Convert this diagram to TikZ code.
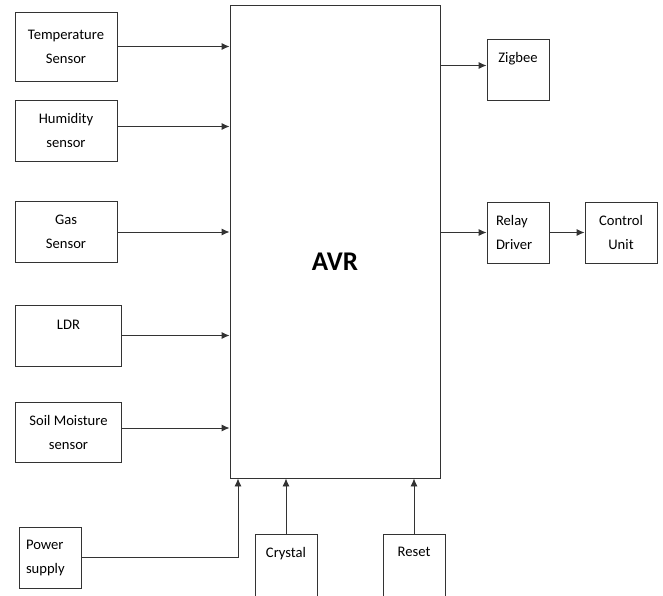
\documentclass[tikz,border=0pt]{standalone}
\usepackage{fontspec}
\setmainfont{Carlito}
\usetikzlibrary{arrows.meta,positioning}

\tikzset{
  blk/.style={draw=black!80,line width=.9pt,inner sep=0pt,align=center,
    font=\fontsize{14.6}{24}\selectfont},
  up/.style={text depth=#1pt},
  conn/.style={draw=black!80,line width=.9pt,-{Latex[length=8pt,width=7pt]}}
}

\begin{document}
\begin{tikzpicture}[x=1pt,y=-1pt]
    \useasboundingbox (0,0) rectangle (663,596);
    % microcontroller
    \node[blk,minimum width=210,minimum height=473,text height=58pt,text depth=0pt,
      font=\fontsize{27}{30}\selectfont\bfseries] (avr) at (335,241.5) {AVR};
    % sensors
    \node[blk,minimum width=102,minimum height=69] (temp) at (66,46.5) {Temperature\\Sensor};
    \node[blk,minimum width=102,minimum height=61] (hum) at (66,130.5) {Humidity\\sensor};
    \node[blk,minimum width=102,minimum height=61] (gas) at (66,232) {Gas\\Sensor};
    \node[blk,minimum width=106,minimum height=61,up=22] (ldr) at (68.5,335.5) {LDR};
    \node[blk,minimum width=106,minimum height=60] (soil) at (68.5,432) {Soil Moisture\\sensor};
    \node[blk,minimum width=62,minimum height=61,text width=48,align=left] (pwr) at (50,557.5) {Power\\supply};
    \node[blk,minimum width=62,minimum height=62,up=26] (cry) at (286,565) {Crystal};
    \node[blk,minimum width=62,minimum height=62,up=26] (rst) at (414,565) {Reset};
    % outputs
    \node[blk,minimum width=62,minimum height=61,up=25] (zig) at (518,69.5) {Zigbee};
    \node[blk,minimum width=62,minimum height=61,text width=44,align=left] (rel) at (518,232.5) {Relay\\Driver};
    \node[blk,minimum width=72,minimum height=61] (ctl) at (621,232.5) {Control\\Unit};

    \draw[conn] (temp.east) -- (temp.east -| avr.west);
    \draw[conn] ([yshift=4pt]hum.east) -- ([yshift=4pt]hum.east -| avr.west);
    \draw[conn] (gas.east) -- (gas.east -| avr.west);
    \draw[conn] (ldr.east) -- (ldr.east -| avr.west);
    \draw[conn] ([yshift=4pt]soil.east) -- ([yshift=4pt]soil.east -| avr.west);
    \draw[conn] (pwr.east) -| ([xshift=-97]avr.south);
    \draw[conn] (cry.north) -- (cry.north |- avr.south);
    \draw[conn] (rst.north) -- (rst.north |- avr.south);
    \draw[conn] ([yshift=4pt]zig.west -| avr.east) -- ([yshift=4pt]zig.west);
    \draw[conn] (rel.west -| avr.east) -- (rel.west);
    \draw[conn] (rel) -- (ctl);
\end{tikzpicture}
\end{document}
